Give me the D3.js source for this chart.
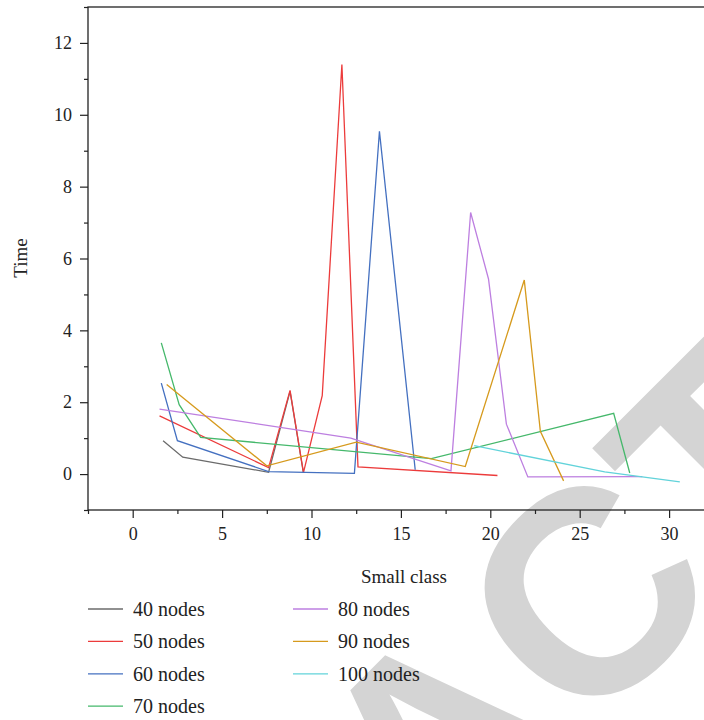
<!DOCTYPE html>
<html>
<head>
<meta charset="utf-8">
<script src="https://cdn.jsdelivr.net/npm/d3@7"></script>
<style>
  html, body { margin: 0; padding: 0; background: #fff; }
  svg { display: block; }
</style>
</head>
<body>
<svg id="chart" width="704" height="720"></svg>
<script>
// ---- data ----
const seriesNames = ["40 nodes", "50 nodes", "60 nodes", "70 nodes", "80 nodes", "90 nodes", "100 nodes"];
const x40 = [1.7, 2.8, 7.6, 8.8, 9.55];
const y40 = [0.93, 0.47, 0.05, 2.3, 0.03];
const x50 = [1.5, 7.6, 8.8, 9.55, 10.6, 11.7, 12.6, 20.4];
const y50 = [1.62, 0.18, 2.33, 0.04, 2.18, 11.4, 0.2, -0.04];
const x60 = [1.6, 2.5, 7.6, 12.4, 13.8, 15.8];
const y60 = [2.53, 0.93, 0.07, 0.02, 9.54, 0.12];
const x70 = [1.6, 2.6, 3.8, 16.7, 26.9, 27.8];
const y70 = [3.65, 1.93, 1.02, 0.43, 1.69, 0.03];
const x80 = [1.5, 12.2, 17.8, 18.9, 19.9, 20.9, 22.1, 28.5];
const y80 = [1.81, 1.0, 0.09, 7.28, 5.43, 1.39, -0.08, -0.07];
const x90 = [1.9, 7.5, 12.5, 18.6, 21.9, 22.8, 24.1];
const y90 = [2.49, 0.23, 0.89, 0.21, 5.4, 1.19, -0.19];
const x100 = [19.1, 26.4, 30.6];
const y100 = [0.79, 0.06, -0.22];
const xTicks = [0, 5, 10, 15, 20, 25, 30];
const yTicks = [0, 2, 4, 6, 8, 10, 12];
const xLabel = "Small class";
const yLabel = "Time";
const watermark = "RETRACTED";

const colors = ["#6b6b6b", "#ec3b3b", "#4470c0", "#45b86b", "#bd7fe0", "#d69a1d", "#62d3da"];
const xsAll = [x40, x50, x60, x70, x80, x90, x100];
const ysAll = [y40, y50, y60, y70, y80, y90, y100];
const series = seriesNames.map((name, i) => ({
  name, color: colors[i],
  points: xsAll[i].map((x, j) => ({ x, y: ysAll[i][j] }))
}));

// ---- layout ----
const svg = d3.select("#chart");
const plotLeft = 88, plotTop = 7, plotBottom = 510;
const xScale = d3.scaleLinear().domain([-2.5, 32.5]).range([plotLeft, plotLeft + 35 * 17.88]);
const yScale = d3.scaleLinear().domain([-1, 13]).range([plotBottom, plotTop]);
const serif = "'Liberation Serif', 'Times New Roman', serif";

// watermark (behind)
const wmSize = 290;
svg.append("text")
  .attr("transform", `translate(583,592) rotate(-45) translate(${-3.805 * wmSize},${0.36 * wmSize})`)
  .attr("x", 0).attr("y", 0)
  .attr("font-family", "'Liberation Sans', Arial, sans-serif")
  .attr("font-weight", "bold")
  .attr("font-size", wmSize)
  .attr("fill", "#d4d4d4")
  .text(watermark);

// frame
const plotRight = xScale.range()[1];
svg.append("rect")
  .attr("x", plotLeft).attr("y", plotTop)
  .attr("width", plotRight - plotLeft).attr("height", plotBottom - plotTop)
  .attr("fill", "none").attr("stroke", "#222").attr("stroke-width", 1.3);

// axes
const xAxis = svg.append("g").attr("transform", `translate(0,${plotBottom})`)
  .call(d3.axisBottom(xScale).tickValues(xTicks).tickSize(8).tickPadding(9).tickFormat(d3.format("d")));
const xMinor = svg.append("g").attr("transform", `translate(0,${plotBottom})`)
  .call(d3.axisBottom(xScale).tickValues(d3.range(-2.5, 33, 5)).tickSize(4).tickFormat(""));
const yAxis = svg.append("g").attr("transform", `translate(${plotLeft},0)`)
  .call(d3.axisLeft(yScale).tickValues(yTicks).tickSize(8).tickPadding(8).tickFormat(d3.format("d")));
const yMinor = svg.append("g").attr("transform", `translate(${plotLeft},0)`)
  .call(d3.axisLeft(yScale).tickValues(d3.range(-1, 14, 2)).tickSize(4).tickFormat(""));

[xAxis, xMinor, yAxis, yMinor].forEach(g => {
  g.select(".domain").remove();
  g.selectAll(".tick line").attr("stroke", "#222").attr("stroke-width", 1.2);
  g.selectAll(".tick text").attr("font-family", serif).attr("font-size", 18).attr("fill", "#222");
});

// axis titles
svg.append("text")
  .attr("x", 404).attr("y", 583)
  .attr("text-anchor", "middle")
  .attr("font-family", serif).attr("font-size", 19).attr("fill", "#222")
  .text(xLabel);
svg.append("text")
  .attr("transform", "translate(27,258) rotate(-90)")
  .attr("text-anchor", "middle")
  .attr("font-family", serif).attr("font-size", 19).attr("fill", "#222")
  .text(yLabel);

// lines
const clipId = "plotclip";
svg.append("clipPath").attr("id", clipId).append("rect")
  .attr("x", plotLeft).attr("y", plotTop).attr("width", plotRight - plotLeft).attr("height", plotBottom - plotTop);
const line = d3.line().x(d => xScale(d.x)).y(d => yScale(d.y));
svg.append("g").attr("clip-path", `url(#${clipId})`)
  .selectAll("path").data(series).join("path")
  .attr("d", d => line(d.points))
  .attr("fill", "none")
  .attr("stroke", d => d.color)
  .attr("stroke-width", 1.3)
  .attr("stroke-linejoin", "miter");

// legend
const legendRows = 4;
const legend = svg.append("g");
series.forEach((s, i) => {
  const col = Math.floor(i / legendRows), row = i % legendRows;
  const lx = 88 + col * 205, ly = 609 + row * 32.4;
  legend.append("line")
    .attr("x1", lx).attr("x2", lx + 35).attr("y1", ly).attr("y2", ly)
    .attr("stroke", s.color).attr("stroke-width", 1.3);
  legend.append("text")
    .attr("x", lx + 45).attr("y", ly)
    .attr("dy", "0.35em")
    .attr("font-family", serif).attr("font-size", 20).attr("fill", "#222")
    .text(s.name);
});
</script>
</body>
</html>
